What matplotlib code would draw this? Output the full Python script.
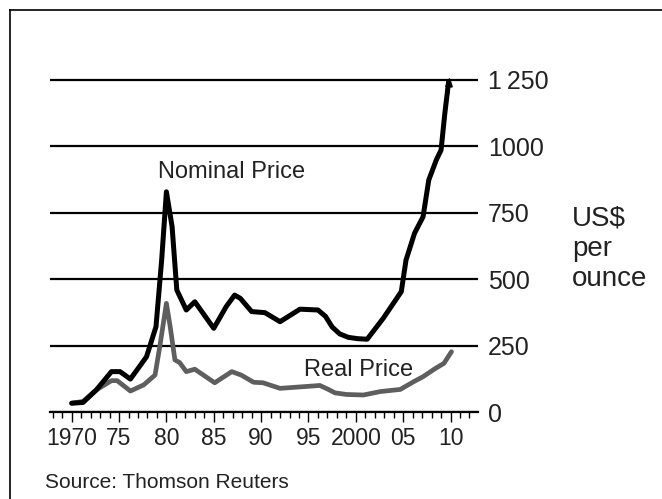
import matplotlib
matplotlib.use('Agg')
import matplotlib.pyplot as plt
from matplotlib.lines import Line2D
from matplotlib.ticker import MultipleLocator

plt.rcParams['font.family'] = ['Liberation Sans', 'DejaVu Sans']

# Gold price, US$ per ounce
nominal_years = [1970, 1971.2, 1972.6, 1974.2, 1975.1, 1976.2, 1977.9, 1978.9, 1979.5,
                 1980.0, 1980.6, 1981.1, 1982.1, 1983.0, 1985.0, 1986.3, 1987.2, 1987.8,
                 1989.0, 1990.4, 1992.0, 1994.1, 1996.0, 1996.8, 1997.5, 1998.3, 1999.2,
                 2000.2, 2001.2, 2002.9, 2004.8, 2005.3, 2006.2, 2007.1, 2007.7, 2008.5,
                 2009.0, 2009.4, 2009.8]
nominal = [33, 36, 83, 152, 152, 124, 208, 321, 572,
           829, 698, 459, 384, 415, 315, 396, 440, 428,
           378, 374, 340, 387, 384, 360, 320, 294, 281,
           276, 274, 353, 453, 572, 673, 735, 873, 949,
           986, 1125, 1244]

real_years = [1970, 1971.2, 1972.6, 1974.2, 1974.8, 1976.2, 1977.6, 1978.8, 1979.3,
              1980.0, 1980.4, 1980.9, 1981.4, 1982.1, 1983.0, 1985.1, 1986.9, 1987.9,
              1989.2, 1990.2, 1992.0, 1995.5, 1996.2, 1997.1, 1997.8, 1999.0, 2000.8,
              2002.6, 2004.7, 2006.1, 2007.1, 2008.4, 2009.3, 2010.1]
real = [33, 40, 83, 118, 118, 79, 102, 139, 246,
        409, 321, 196, 186, 152, 161, 110, 152, 139,
        112, 110, 89, 98, 100, 85, 72, 66, 64,
        77, 85, 114, 133, 164, 183, 227]

x_ticks = [1970, 1975, 1980, 1985, 1990, 1995, 2000, 2005, 2010]
x_labels = ['1970', '75', '80', '85', '90', '95', '2000', '05', '10']
y_ticks = [0, 250, 500, 750, 1000, 1250]
y_labels = ['0', '250', '500', '750', '1000', '1\u2009250']

fig = plt.figure(figsize=(6.62, 4.99), dpi=100)
ax = fig.add_axes([50 / 662, 87 / 499, 428 / 662, 352 / 499])

ax.plot(real_years, real, color='#5e5e5e', lw=3.4, solid_joinstyle='round',
        solid_capstyle='round', clip_on=False, zorder=3)
ax.plot(nominal_years, nominal, color='black', lw=3.6, solid_joinstyle='round',
        solid_capstyle='round', clip_on=False, zorder=4)
# arrow head at the end of the nominal line
ax.annotate('', xy=(nominal_years[-1] + 0.1, 1262), xytext=(nominal_years[-1], 1200),
            arrowprops=dict(arrowstyle='-|>,head_length=0.5,head_width=0.2',
                            color='black', lw=1.5, shrinkA=0, shrinkB=0),
            annotation_clip=False, zorder=5)

ax.set_xlim(1967.71, 2012.9)
ax.set_ylim(0, 1325)

for s in ['top', 'left', 'right']:
    ax.spines[s].set_visible(False)
ax.spines['bottom'].set_linewidth(1.6)

ax.set_xticks(x_ticks)
ax.set_xticklabels(x_labels, fontsize=16.5)
ax.xaxis.set_minor_locator(MultipleLocator(1))
ax.tick_params(axis='x', which='major', length=7, width=1, pad=4, colors='black')
ax.tick_params(axis='x', which='minor', length=4, width=1)
for lab in ax.get_xticklabels():
    lab.set_color('#222222')

ax.yaxis.tick_right()
ax.set_yticks(y_ticks)
ax.set_yticklabels(y_labels, fontsize=18, color='#222222')
ax.tick_params(axis='y', length=0, pad=7)
ax.yaxis.grid(True, color='black', lw=1.6)
ax.set_axisbelow(True)

ax.text(1986.9, 904, 'Nominal Price', fontsize=17, ha='center', va='center', color='#222222')
ax.text(2000.3, 158, 'Real Price', fontsize=17, ha='center', va='center', color='#222222')

fig.text(572 / 662, 250 / 499, 'US$\nper\nounce', fontsize=20, ha='left', va='center',
         linespacing=1.2, color='#222222')
fig.text(45 / 662, 16 / 499, 'Source: Thomson Reuters', fontsize=15, ha='left',
         va='center', color='#222222')

# frame lines at top and left edge
fig.add_artist(Line2D([9.5 / 662, 1], [1 - 10 / 499, 1 - 10 / 499], color='black',
                      lw=1.2, transform=fig.transFigure))
fig.add_artist(Line2D([9.5 / 662, 9.5 / 662], [0, 1 - 10 / 499], color='black',
                      lw=1.2, transform=fig.transFigure))

fig.savefig('out.png', dpi=100)
